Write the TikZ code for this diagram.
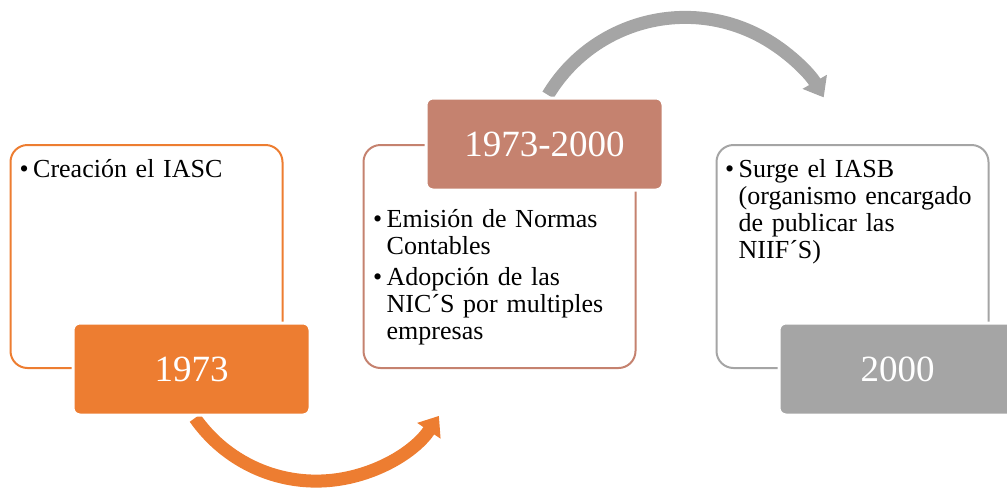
\documentclass[tikz,border=0pt]{standalone}
\usepackage{fontspec}
\setmainfont{Liberation Serif}
\usetikzlibrary{positioning, arrows.meta}
\definecolor{orng}{HTML}{ED7D31}
\definecolor{brwn}{HTML}{C5826F}
\definecolor{gry}{HTML}{A5A5A5}
\newcommand{\itm}{\hangindent=13.5pt\hangafter=1\makebox[13.5pt][l]{\textbullet}}
\newcommand{\nxt}{\par\vspace{4pt}}
\tikzset{
    x=1pt, y=1pt,
    box/.style={draw, line width=2pt, rounded corners=17pt, minimum width=272pt, minimum height=223pt},
    lbl/.style={draw=white, line width=3pt, rounded corners=7pt, minimum width=237pt, minimum height=92pt,
        text=white, font=\fontsize{37}{40}\selectfont},
    txt/.style={anchor=base west, inner sep=0pt, text width=260pt, align=left, font=\fontsize{26}{27}\selectfont},
    arr/.style={line width=13pt, -{Triangle[length=18pt, width=27pt]}},
}
\begin{document}
\begin{tikzpicture}
                \useasboundingbox (0,0) rectangle (1007,-488);
                \node[box, orng] (b1) at (146.5,-256.5) {};
                \node[box, brwn, right=79pt of b1] (b2) {};
                \node[box, gry, right=79pt of b2] (b3) {};

                \coordinate (a1) at (195,-418);
                \coordinate (a2) at (548,-95);
                \draw[arr, orng] (a1) arc[start angle=215, end angle=326, radius=148];
                \draw[arr, gry] (a2) arc[start angle=149, end angle=30, radius=160];

                \node[lbl, fill=orng] (l1) at ([xshift=45pt]b1.south) {1973};
                \node[lbl, fill=brwn] (l2) at ([xshift=45pt]b2.north) {1973-2000};
                \node[lbl, fill=gry] (l3) at ([xshift=45pt]b3.south) {2000};

                \node[txt] (t1) at ([shift={(10pt,-33pt)}]b1.north west) {\itm Creación el IASC\par};
                \node[txt] (t2) at ([shift={(10.5pt,-83pt)}]b2.north west)
                    {\itm Emisión de Normas\newline Contables\nxt
                     \itm Adopción de las\newline NIC´S por multiples\newline empresas\par};
                \node[txt] (t3) at ([shift={(9.5pt,-33pt)}]b3.north west)
                    {\itm Surge el IASB\newline (organismo encargado\newline de publicar las\newline NIIF´S)\par};
            \end{tikzpicture}
\end{document}
